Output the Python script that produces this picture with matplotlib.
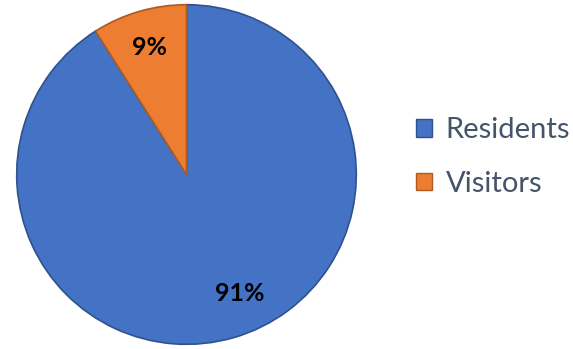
import numpy as np
import matplotlib.pyplot as plt
from matplotlib.patches import Patch

labels = ["Residents", "Visitors"]
shares = [91, 9]
colors = ["#4472C4", "#ED7D31"]
edges = ["#2F528F", "#AE5A21"]

fig = plt.figure(figsize=(5.73, 3.49), dpi=100)
ax = fig.add_axes([15 / 573, 3 / 349, 343 / 573, 343 / 349])

wedges, texts, autotexts = ax.pie(
    shares, colors=colors, startangle=90, counterclock=False,
    autopct="%d%%", pctdistance=0.78,
    wedgeprops=dict(linewidth=1.2),
    textprops=dict(fontsize=18, fontweight="bold", family="Lato", color="black"),
)
for w, e in zip(wedges, edges):
    w.set_edgecolor(e)

# Excel nudges the big slice's label towards the lower right
ang = np.deg2rad(-66)
autotexts[0].set_position((0.77 * np.cos(ang), 0.77 * np.sin(ang)))

ax.set_xlim(-1.01, 1.01)
ax.set_ylim(-1.01, 1.01)
ax.set_aspect("equal")

handles = [Patch(facecolor=c, edgecolor=e) for c, e in zip(colors, edges)]
fig.legend(handles, labels, loc="center left", bbox_to_anchor=(390 / 573, 0.55),
           frameon=False, handlelength=0.55, handleheight=0.55, handletextpad=0.45,
           labelspacing=0.95, prop=dict(family="Lato", size=21),
           labelcolor="#44546A")

fig.savefig("out.png", dpi=100)
